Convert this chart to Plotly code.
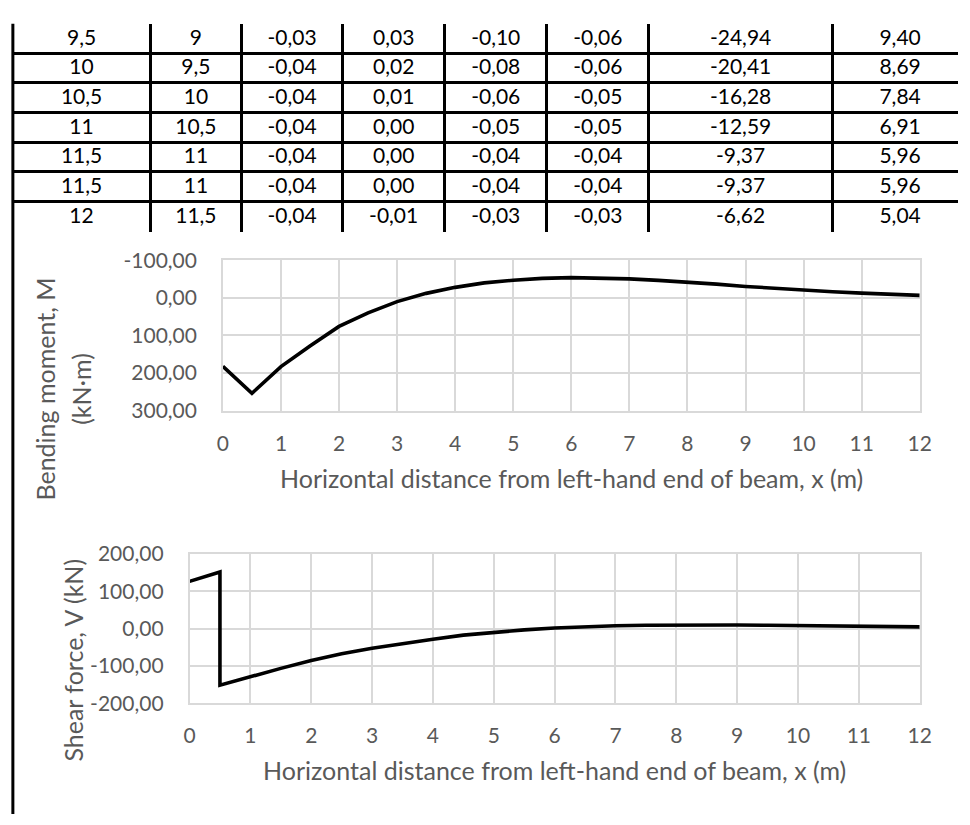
import plotly.graph_objects as go

# ---------------- data ----------------
# table (last rows of the spreadsheet)
tbl_x = [9.5, 10, 10.5, 11, 11.5, 11.5, 12]
tbl_x_prev = [9, 9.5, 10, 10.5, 11, 11, 11.5]
tbl_c3 = [-0.03, -0.04, -0.04, -0.04, -0.04, -0.04, -0.04]
tbl_c4 = [0.03, 0.02, 0.01, 0.00, 0.00, 0.00, -0.01]
tbl_c5 = [-0.10, -0.08, -0.06, -0.05, -0.04, -0.04, -0.03]
tbl_c6 = [-0.06, -0.06, -0.05, -0.05, -0.04, -0.04, -0.03]
tbl_M = [-24.94, -20.41, -16.28, -12.59, -9.37, -9.37, -6.62]
tbl_V = [9.40, 8.69, 7.84, 6.91, 5.96, 5.96, 5.04]

# earlier rows
x_early = [0, 0.5, 0.5, 1, 1.5, 2, 2.5, 3, 3.5, 4, 4.5, 5, 5.5, 6, 6.5, 7, 7.5, 8, 8.5, 9]
M_early = [182, 254, 254, 183, 128, 76, 40, 10, -12, -28, -40, -47, -52, -54, -53,
           -50.5, -46.5, -42, -36.5, -30.5]
V_early = [127, 152, -151, -128, -106, -85, -67, -52, -39, -28, -17, -9, -3, 2, 5.5,
           8, 9.5, 10.3, 10.4, 10]

x_chart = x_early + tbl_x
M_chart = M_early + tbl_M
V_chart = V_early + tbl_V

M_ticks = [-100, 0, 100, 200, 300]
M_ticktext = ["-100,00", "0,00", "100,00", "200,00", "300,00"]
V_ticks = [-200, -100, 0, 100, 200]
V_ticktext = ["-200,00", "-100,00", "0,00", "100,00", "200,00"]

x_title = "Horizontal distance from left-hand end of beam, x (m)"

# ---------------- layout helpers ----------------
W, H = 970, 825
FONT = "Lato"
GREY = "#595959"
GRID = "#d9d9d9"


def px_x(p):
    return p / W


def px_y(p):
    return 1 - p / H


def fmt_general(v):
    s = ("%g" % v)
    return s.replace(".", ",")


def fmt2(v):
    return ("%.2f" % v).replace(".", ",")


table_cols = [
    [fmt_general(v) for v in tbl_x],
    [fmt_general(v) for v in tbl_x_prev],
    [fmt2(v) for v in tbl_c3],
    [fmt2(v) for v in tbl_c4],
    [fmt2(v) for v in tbl_c5],
    [fmt2(v) for v in tbl_c6],
    [fmt2(v) for v in tbl_M],
    [fmt2(v) for v in tbl_V],
]

col_bounds = [7, 147, 240, 343, 447, 551, 655, 842, 980]
col_centers = [(col_bounds[i] + col_bounds[i + 1]) / 2 for i in range(8)]
col_centers[-1] = 911
tbl_top, row_h = 10, 30.57
n_rows = len(tbl_x)
row_lines = [tbl_top + row_h * (k + 1) for k in range(n_rows)]

tx, ty, tt = [], [], []
for ci, col in enumerate(table_cols):
    for ri, s in enumerate(col):
        tx.append(col_centers[ci])
        ty.append(tbl_top + row_h * (ri + 0.5) + 1)
        tt.append(s)

fig = go.Figure()

# table as text on pixel-unit axes (grid lines = cell borders)
fig.add_trace(go.Scatter(
    x=tx, y=ty, text=tt, mode="text", xaxis="x3", yaxis="y3",
    textfont=dict(family=FONT, size=21, color="black"),
    hoverinfo="skip", cliponaxis=False))

# bending moment
fig.add_trace(go.Scatter(
    x=x_chart, y=M_chart, mode="lines", xaxis="x", yaxis="y",
    line=dict(color="black", width=3.6)))

# shear force
fig.add_trace(go.Scatter(
    x=x_chart, y=V_chart, mode="lines", xaxis="x2", yaxis="y2",
    line=dict(color="black", width=3.6)))

tickfont = dict(family=FONT, size=21, color=GREY)

common_x = dict(range=[0, 12], dtick=1, tick0=0, showgrid=True, gridcolor=GRID,
                gridwidth=1.5, zeroline=False, showline=True, linecolor=GRID,
                linewidth=1.5, mirror=True, ticks="", tickfont=tickfont,
                ticklabelstandoff=13)
common_y = dict(showgrid=True, gridcolor=GRID, gridwidth=1.5, zeroline=False,
                showline=True, linecolor=GRID, linewidth=1.5, mirror=True,
                ticks="", tickfont=tickfont, ticklabelstandoff=20)

fig.update_layout(
    width=W, height=H,
    margin=dict(l=0, r=0, t=0, b=0),
    paper_bgcolor="white", plot_bgcolor="white",
    showlegend=False,
    font=dict(family=FONT),
    xaxis=dict(domain=[px_x(221), px_x(931)], anchor="y", **common_x),
    yaxis=dict(domain=[px_y(409), px_y(254)], anchor="x", range=[300, -100],
               tickvals=M_ticks, ticktext=M_ticktext, **common_y),
    xaxis2=dict(domain=[px_x(187), px_x(931)], anchor="y2", **common_x),
    yaxis2=dict(domain=[px_y(711), px_y(557)], anchor="x2", range=[-200, 200],
                tickvals=V_ticks, ticktext=V_ticktext, **common_y),
    xaxis3=dict(domain=[px_x(7), 1], anchor="y3", range=[7, W], showticklabels=False,
                tickvals=col_bounds[1:-1], showgrid=True, gridcolor="black",
                gridwidth=2.5, zeroline=False, showline=False, ticks=""),
    yaxis3=dict(domain=[px_y(225), px_y(tbl_top)], anchor="x3",
                range=[225, tbl_top], showticklabels=False, tickvals=row_lines,
                showgrid=True, gridcolor="black", gridwidth=2.5, zeroline=False,
                showline=False, ticks=""),
)

# page left border
fig.add_shape(type="line", xref="paper", yref="paper",
              x0=px_x(7), x1=px_x(7), y0=0, y1=px_y(tbl_top),
              line=dict(color="black", width=3))

title_font = dict(family=FONT, size=25, color=GREY)
annos = [
    dict(text=x_title, x=px_x(576), y=px_y(478)),
    dict(text=x_title, x=px_x(559), y=px_y(780)),
    dict(text="Bending moment, M", x=px_x(40), y=px_y(387), textangle=-90),
    dict(text="(kN·m)", x=px_x(77), y=px_y(387), textangle=-90),
    dict(text="Shear force, V (kN)", x=px_x(68), y=px_y(666), textangle=-90),
]
for a in annos:
    fig.add_annotation(xref="paper", yref="paper", showarrow=False,
                       xanchor="center", yanchor="middle", font=title_font, **a)

fig.write_html("out.html")
